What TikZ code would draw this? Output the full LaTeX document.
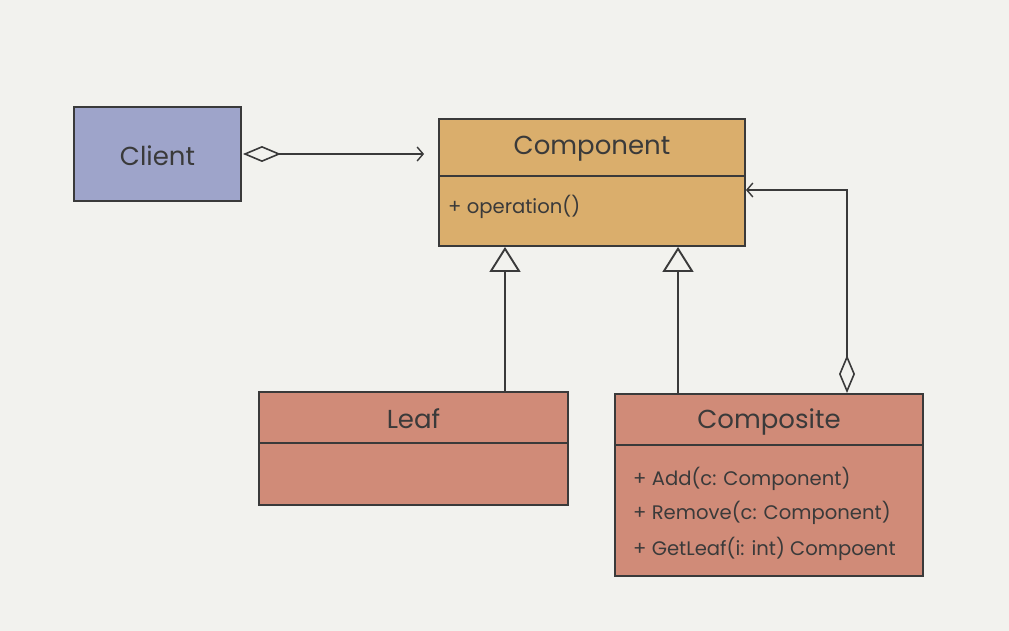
\documentclass[tikz,border=0pt]{standalone}
\usepackage{fontspec}
\setmainfont{Poppins}
\usetikzlibrary{arrows.meta,calc}
\definecolor{bg}{HTML}{F2F2EE}
\definecolor{ink}{HTML}{3A3A3A}
\definecolor{clientfill}{HTML}{9EA4CA}
\definecolor{compfill}{HTML}{DAAE6C}
\definecolor{leaffill}{HTML}{D08B78}
\tikzset{
  umlbox/.style={draw=ink, line width=1.9pt, rectangle, inner sep=0pt},
  divider/.style={draw=ink, line width=1.5pt},
  title/.style={text=ink, font=\fontsize{26}{30}\selectfont},
  method/.style={text=ink, font=\fontsize{19.6}{23}\selectfont, anchor=west, inner sep=0pt},
  conn/.style={draw=ink, line width=1.8pt},
  inh/.style={conn, line width=2.3pt, -{Triangle[open, length=25pt, width=31pt, line width=1.9pt]}},
  assoc/.style={conn, {Diamond[open, length=38pt, width=16pt, line width=1.6pt]}-{Straight Barb[length=6pt, width=14pt, line width=1.4pt]}},
}
\begin{document}
\begin{tikzpicture}[x=1pt, y=-1pt]
\fill[bg] (0,0) rectangle (1009,631);
\useasboundingbox (0,0) rectangle (1009,631);

% Client
\node[umlbox, fill=clientfill, minimum width=167pt, minimum height=94pt] (client) at (157.5,154) {};
\node[title] (clientt) at (157.5,156) {Client};

% Component
\node[umlbox, fill=compfill, minimum width=306pt, minimum height=127pt] (comp) at (592,182.5) {};
\draw[divider] (comp.west |- 0,176) -- (comp.east |- 0,176);
\node[title] (compt) at (592,148.5) {Component};
\node[method] (op) at (448,207) {+ operation()};

% Leaf
\node[umlbox, fill=leaffill, minimum width=309pt, minimum height=113pt] (leaf) at (413.5,448.5) {};
\draw[divider] (leaf.west |- 0,443) -- (leaf.east |- 0,443);
\node[title] (leaft) at (413.5,419) {Leaf};

% Composite
\node[umlbox, fill=leaffill, minimum width=308pt, minimum height=182pt] (compo) at (769,485) {};
\draw[divider] (compo.west |- 0,445) -- (compo.east |- 0,445);
\node[title] (compot) at (769,421.5) {Composite};
\node[method] (m1) at (633,479) {+ Add(c: Component)};
\node[method] (m2) at (633,513) {+ Remove(c: Component)};
\node[method] (m3) at (633,549) {+ GetLeaf(i: int) Compoent};

% Connectors
\draw[assoc, shorten <=1pt, shorten >=14pt] (client.east) -- (comp.west |- client.east);
\draw[inh] ([xshift=91.5pt]leaf.north) -- ([xshift=91.5pt]leaf.north |- comp.south);
\draw[inh] ([xshift=-91pt]compo.north) -- ([xshift=-91pt]compo.north |- comp.south);
\draw[assoc] ([xshift=78pt]compo.north) |- ([yshift=-7.5pt]comp.east);
\end{tikzpicture}
\end{document}
